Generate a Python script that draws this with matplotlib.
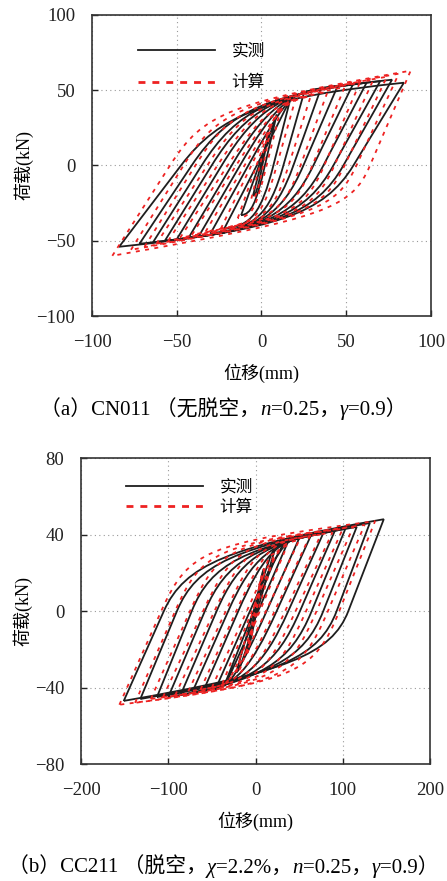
import matplotlib
matplotlib.use("Agg")
import matplotlib.pyplot as plt
from matplotlib.path import Path
from matplotlib.patches import PathPatch
from matplotlib.lines import Line2D
from matplotlib.offsetbox import TextArea, HPacker, AnchoredOffsetbox

plt.rcParams['font.family'] = ['Liberation Serif', 'Noto Sans CJK SC']
plt.rcParams['axes.unicode_minus'] = True

# ---- (a) CN011 : measured loops (peaks and zero-load crossings) ----
a_dp = [4, 9, 17, 25, 35, 45, 54, 62, 70, 77, 84]
a_fp = [20, 34, 44, 48, 51, 53, 54, 55, 56, 57, 55]
a_x0d = [0.5, 2, 7, 12.9, 18.8, 24.7, 30.6, 36.5, 42.4, 48.3, 54.2]
a_dn = [-5, -12, -22, -30, -37, -43, -50, -57, -64, -72, -84]
a_fn = [-20, -33, -42, -45, -47, -48, -49, -50, -51, -52, -54]
a_x0u = [-0.5, -1.5, -2.8, -7.8, -12.7, -17.6, -23.5, -29.4, -35.3, -41.2, -47.5]

# (a) computed loops
ra_dp = [5, 11, 20, 29, 39, 49, 58, 66, 74, 81, 88]
ra_fp = [22, 36, 44, 46, 49, 52, 55, 57, 59, 61, 63]
ra_x0d = [1, 3, 9, 16, 23, 30, 37, 43, 49, 56, 64]
ra_dn = [-6, -14, -24, -33, -41, -48, -55, -62, -69, -77, -88]
ra_fn = [-22, -35, -42, -44, -46, -48, -50, -52, -54, -56, -60]
ra_x0u = [-1, -3, -6, -10, -15, -20, -26, -32, -39, -46, -54]

# ---- (b) CC211 : measured loops ----
b_dp = [10, 22, 38, 51, 64, 78, 91, 103, 116, 131, 147]
b_fp = [22, 32, 37, 39, 40, 41, 42, 43, 44, 46, 48]
b_x0d = [1, 2, 3, 12.8, 24.3, 37.6, 51, 64.4, 77.7, 93, 106.4]
b_dn = [-10, -22, -35, -46, -60, -73, -86, -100, -113, -132, -151]
b_fn = [-22, -32, -38, -41, -42, -43, -44, -45, -45, -46, -47]
b_x0u = [-1, -2, -2, -6.3, -19.7, -31.2, -44.5, -58, -73, -90, -105]

# (b) computed loops
rb_dp = [10, 22, 36, 50, 62, 75, 88, 100, 112, 125, 137]
rb_fp = [22, 30, 34, 37, 39, 40, 41, 43, 44, 45, 47]
rb_x0d = [1, 3, 5, 12, 22, 34, 46, 58, 70, 83, 96]
rb_dn = [-10, -22, -38, -50, -63, -77, -92, -106, -120, -138, -156]
rb_fn = [-22, -32, -38, -40, -41, -42, -44, -45, -46, -48, -49]
rb_x0u = [-1, -3, -4, -10, -22, -34, -47, -60, -75, -92, -108]

legend_labels = ['实测', '计算']


def branch(start, cross, end, s_end, k):
    # straight part to the zero crossing, then a bezier bending onto the backbone
    m1 = (cross[1] - start[1]) / (cross[0] - start[0])
    xc = (end[1] - s_end * end[0] + m1 * cross[0]) / (m1 - s_end)
    lo, hi = sorted([cross[0], end[0]])
    if not (lo < xc < hi):
        xc = 0.5 * (cross[0] + end[0])
    c = (xc, m1 * (xc - cross[0]))
    p1 = (cross[0] + k * (c[0] - cross[0]), cross[1] + k * (c[1] - cross[1]))
    p2 = (end[0] + k * (c[0] - end[0]), end[1] + k * (c[1] - end[1]))
    return [cross, p1, p2, end], [Path.LINETO, Path.CURVE4, Path.CURVE4, Path.CURVE4]


def loops(ax, dp, fp, x0d, dn, fn, x0u, s_end, k, **kw):
    for i in range(len(dp)):
        verts = [(dn[i], fn[i])]
        codes = [Path.MOVETO]
        v, c = branch((dn[i], fn[i]), (x0u[i], 0), (dp[i], fp[i]), s_end, k)
        verts += v
        codes += c
        v, c = branch((dp[i], fp[i]), (x0d[i], 0), (dn[i], fn[i]), s_end, k)
        verts += v
        codes += c
        ax.add_patch(PathPatch(Path(verts, codes), fill=False, **kw))


def style(ax, xlim, ylim, xt, yt):
    ax.set_xlim(xlim)
    ax.set_ylim(ylim)
    ax.set_xticks(xt)
    ax.set_yticks(yt)
    ax.tick_params(direction='in', length=4, labelsize=13.5, width=1, colors='#222222')
    ax.tick_params(axis='x', pad=13)
    ax.tick_params(axis='y', pad=12)
    ax.grid(True, ls=(0, (1, 3)), color='#999999', lw=0.8)
    for sp in ax.spines.values():
        sp.set_linewidth(1.2)
        sp.set_color('#333333')
    ax.set_xlabel('位移(mm)', fontsize=13, labelpad=9)
    ax.set_ylabel('荷载(kN)', fontsize=13, labelpad=2)


def add_legend(ax, anchor, spacing):
    h = [Line2D([], [], color='#1e1e1e', lw=1.3),
         Line2D([], [], color='#ee2222', lw=2, ls=(0, (2.5, 2.5)))]
    ax.legend(h, legend_labels, loc='upper left', bbox_to_anchor=anchor, frameon=False,
              fontsize=12, handlelength=4.6, handletextpad=1.0, labelspacing=spacing,
              borderpad=0, borderaxespad=0)


def caption(fig, y, parts):
    boxes = []
    for txt, it in parts:
        if it:
            prop = dict(family='Liberation Serif', style='italic', size=15)
        else:
            prop = dict(family=['Liberation Serif', 'Noto Sans CJK SC'], size=15)
        boxes.append(TextArea(txt, textprops=prop))
    pack = HPacker(children=boxes, align='baseline', pad=0, sep=0)
    ab = AnchoredOffsetbox(loc='center', child=pack, frameon=False,
                           bbox_to_anchor=(0.5, y), bbox_transform=fig.transFigure)
    fig.add_artist(ab)


black = dict(edgecolor='#1e1e1e', lw=1.3, zorder=3)
red = dict(edgecolor='#ee2222', lw=1.3, ls=(0, (2.2, 3)), zorder=4)

fig = plt.figure(figsize=(4.47, 8.81), dpi=100)

ax1 = fig.add_axes([0.2058, 0.6413, 0.7584, 0.3417])
loops(ax1, a_dp, a_fp, a_x0d, a_dn, a_fn, a_x0u, 0.12, 0.8, **black)
loops(ax1, ra_dp, ra_fp, ra_x0d, ra_dn, ra_fn, ra_x0u, 0.2, 0.9, **red)
style(ax1, (-100, 100), (-100, 100), [-100, -50, 0, 50, 100], [-100, -50, 0, 50, 100])
add_legend(ax1, (0.136, 0.905), 0.95)

ax2 = fig.add_axes([0.1812, 0.1328, 0.7808, 0.3473])
loops(ax2, b_dp, b_fp, b_x0d, b_dn, b_fn, b_x0u, 0.08, 0.8, **black)
loops(ax2, rb_dp, rb_fp, rb_x0d, rb_dn, rb_fn, rb_x0u, 0.06, 0.92, **red)
style(ax2, (-200, 200), (-80, 80), [-200, -100, 0, 100, 200], [-80, -40, 0, 40, 80])
add_legend(ax2, (0.129, 0.93), 0.25)

caption(fig, 1 - 410 / 881, [('（a）CN011 （无脱空，', False), ('n', True),
                             ('=0.25，', False), ('γ', True), ('=0.9）', False)])
caption(fig, 1 - 868 / 881, [('（b）CC211 （脱空，', False), ('χ', True), ('=2.2%，', False),
                             ('n', True), ('=0.25，', False), ('γ', True), ('=0.9）', False)])

fig.savefig('out.png', dpi=100)
